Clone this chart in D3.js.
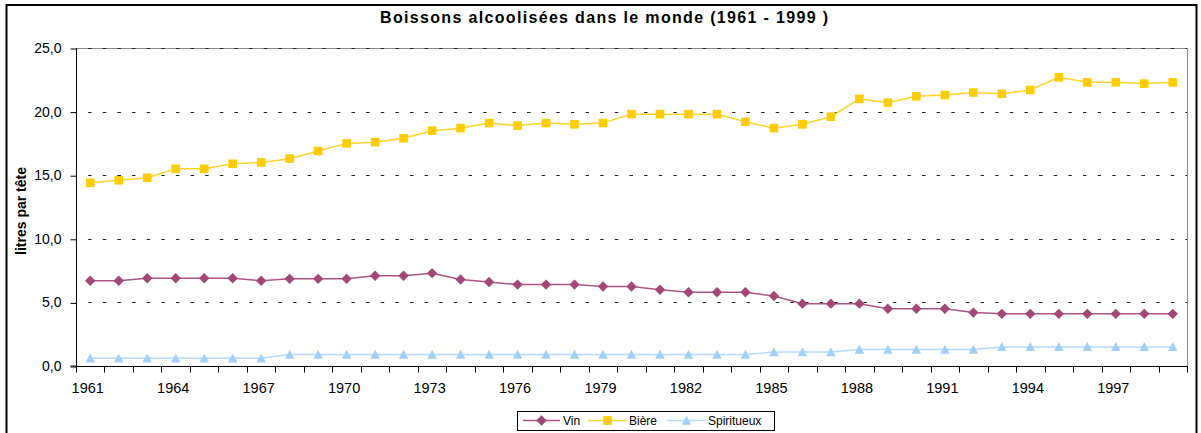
<!DOCTYPE html>
<html><head><meta charset="utf-8">
<script src="https://cdn.jsdelivr.net/npm/d3@7"></script>
<style>html,body{margin:0;padding:0;background:#fff;}svg{display:block;font-family:"Liberation Sans",Arial,sans-serif;}</style>
</head><body>
<svg id="c" width="1201" height="433"></svg>
<script>
const years = d3.range(1961, 2000);
const vin = [6.7,6.7,6.9,6.9,6.9,6.9,6.7,6.85,6.85,6.85,7.1,7.1,7.3,6.8,6.6,6.4,6.4,6.4,6.25,6.25,6.0,5.8,5.8,5.8,5.5,4.9,4.9,4.9,4.5,4.5,4.5,4.2,4.1,4.1,4.1,4.1,4.1,4.1,4.1];
const biere = [14.4,14.6,14.8,15.5,15.5,15.9,16.0,16.3,16.9,17.5,17.6,17.9,18.5,18.7,19.1,18.9,19.1,19.0,19.1,19.8,19.8,19.8,19.8,19.2,18.7,19.0,19.6,21.0,20.7,21.2,21.3,21.5,21.4,21.7,22.7,22.3,22.3,22.2,22.3];
const spiritueux = [0.6,0.6,0.6,0.6,0.6,0.6,0.6,0.9,0.9,0.9,0.9,0.9,0.9,0.9,0.9,0.9,0.9,0.9,0.9,0.9,0.9,0.9,0.9,0.9,1.1,1.1,1.1,1.3,1.3,1.3,1.3,1.3,1.5,1.5,1.5,1.5,1.5,1.5,1.5];
const yTicks = [0,5,10,15,20,25];
const xLabelYears = years.filter((y,i)=> i%3===0);
const seriesNames = ["Vin","Bière","Spiritueux"];
const title = "Boissons alcoolisées dans le monde  (1961  - 1999 )";
const yTitle = "litres par tête";

const colors = {Vin:"#A24777", "Bière":"#FFCC00", Spiritueux:"#A3CFFF"};
const lineColors = {Vin:"#AB5584", "Bière":"#FFD42A", Spiritueux:"#B5D9FF"};
const series = [
  {name:"Vin", values:vin, shape:"diamond"},
  {name:"Bière", values:biere, shape:"square"},
  {name:"Spiritueux", values:spiritueux, shape:"triangle"}
];

const svg = d3.select("#c");
const L=76, R=1187, T=48, B=366;

svg.append("rect").attr("x",6.5).attr("y",5).attr("width",1190).attr("height",440)
  .attr("fill","#fff").attr("stroke","#000").attr("stroke-width",2);

const x = d3.scaleBand().domain(years).range([L,R]).padding(0);
const y = d3.scaleLinear().domain([0,25]).range([B,T]);
const cx = d => x(d)+x.bandwidth()/2;

svg.append("path").attr("d",`M${L},${T+0.5}H${R+0.5}V${B}`).attr("fill","none").attr("stroke","#8c8c8c").attr("stroke-width",1);

svg.append("g").selectAll("line").data(yTicks.filter(v=>v>0)).join("line")
  .attr("x1",L).attr("x2",R).attr("y1",d=>Math.round(y(d))+0.5).attr("y2",d=>Math.round(y(d))+0.5)
  .attr("stroke","#222").attr("stroke-width",1).attr("stroke-dasharray","3.5,11.13").attr("stroke-dashoffset",2.5);

const yAxis = d3.axisLeft(y).tickValues(yTicks).tickSize(6).tickPadding(9)
  .tickFormat(d=>d3.format(".1f")(d).replace(".",","));
const gy = svg.append("g").attr("transform",`translate(${L+0.5},0.5)`).call(yAxis);
gy.attr("font-family",null).attr("font-size",null);
gy.select(".domain").attr("stroke","#000").attr("d",`M-6,${B-0.5}H0V${T-0.5}`);
gy.selectAll(".tick line").attr("stroke","#000");
gy.selectAll(".tick text").attr("font-size",14).attr("fill","#000").attr("dy","0.28em");

const gx = svg.append("g").attr("transform",`translate(0,${B+0.5})`);
gx.append("line").attr("x1",L).attr("x2",R+1).attr("y1",0).attr("y2",0).attr("stroke","#000");
gx.selectAll("line.tk").data(years.concat([null])).join("line").attr("class","tk")
  .attr("x1",(d,i)=>Math.round(i<years.length? x(d): R)+0.5).attr("x2",(d,i)=>Math.round(i<years.length? x(d): R)+0.5)
  .attr("y1",0).attr("y2",6).attr("stroke","#000");
gx.selectAll("text").data(xLabelYears).join("text")
  .attr("x",d=>cx(d)-2.5).attr("y",26).attr("text-anchor","middle")
  .attr("font-size",14.5).attr("fill","#000").text(d=>d);

const line = d3.line().x((d,i)=>cx(years[i])).y(d=>y(d));
const shapes = {
  diamond: "M0,-5.2L5.2,0L0,5.2L-5.2,0Z",
  square: "M-4.3,-4.3H4.3V4.3H-4.3Z",
  triangle: "M0,-4.8L4.8,4.2L-4.8,4.2Z"
};
series.forEach(s=>{
  svg.append("path").datum(s.values).attr("d",line).attr("fill","none")
    .attr("stroke",lineColors[s.name]).attr("stroke-width",1.5);
  svg.append("g").selectAll("path").data(s.values).join("path")
    .attr("transform",(d,i)=>`translate(${cx(years[i])},${y(d)})`)
    .attr("d",shapes[s.shape]).attr("fill",colors[s.name]);
});

svg.append("text").attr("x",380).attr("y",23).attr("font-size",16).attr("font-weight","bold")
  .attr("textLength",448).attr("lengthAdjust","spacing").attr("fill","#000").text(title);

svg.append("text").attr("transform","translate(26,211) rotate(-90)").attr("text-anchor","middle")
  .attr("font-size",14).attr("font-weight","bold").attr("fill","#000").text(yTitle);

const lg = svg.append("g");
lg.append("rect").attr("x",517.5).attr("y",411.5).attr("width",257).attr("height",19)
  .attr("fill","#fff").attr("stroke","#000").attr("stroke-width",1);
const legendItems = [
  {name:seriesNames[0], x1:523, x2:560, tx:563, shape:"diamond"},
  {name:seriesNames[1], x1:588, x2:627, tx:629, shape:"square"},
  {name:seriesNames[2], x1:667, x2:706, tx:708, shape:"triangle"}
];
legendItems.forEach(it=>{
  lg.append("line").attr("x1",it.x1).attr("x2",it.x2).attr("y1",420.5).attr("y2",420.5)
    .attr("stroke",lineColors[it.name]).attr("stroke-width",1.5);
  lg.append("path").attr("transform",`translate(${(it.x1+it.x2)/2},420.5)`).attr("d",shapes[it.shape]).attr("fill",colors[it.name]);
  lg.append("text").attr("x",it.tx).attr("y",424.5).attr("font-size",12).attr("fill","#000").text(it.name);
});
</script>
</body></html>
